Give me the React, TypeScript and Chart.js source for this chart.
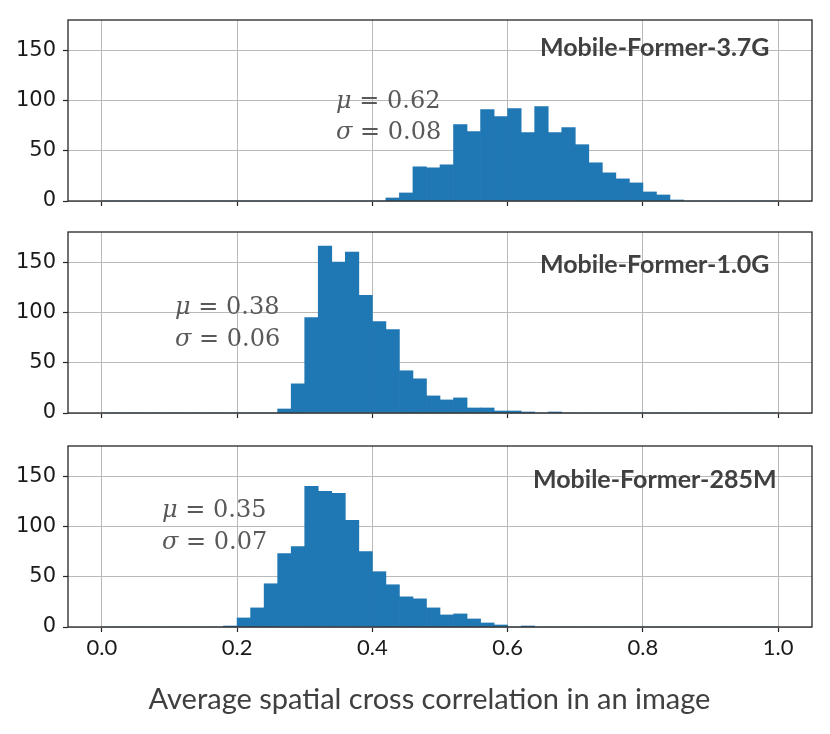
import React, { useEffect, useRef } from "react";
import { Chart, registerables } from "chart.js";
Chart.register(...registerables);

// Histogram bins: 50 bins of width 0.02 on [0, 1]
const binWidth = 0.02;
const binLefts = [
  0.0, 0.02, 0.04, 0.06, 0.08, 0.1, 0.12, 0.14, 0.16, 0.18,
  0.2, 0.22, 0.24, 0.26, 0.28, 0.3, 0.32, 0.34, 0.36, 0.38,
  0.4, 0.42, 0.44, 0.46, 0.48, 0.5, 0.52, 0.54, 0.56, 0.58,
  0.6, 0.62, 0.64, 0.66, 0.68, 0.7, 0.72, 0.74, 0.76, 0.78,
  0.8, 0.82, 0.84, 0.86, 0.88, 0.9, 0.92, 0.94, 0.96, 0.98,
];

const counts37G = [
  0, 0, 0, 0, 0, 0, 0, 0, 0, 0,
  0, 0, 0, 0, 0, 0, 0, 0, 0, 0,
  0, 3, 8, 34, 33, 36, 76, 69, 91, 84,
  92, 68, 94, 68, 73, 56, 38, 28, 22, 18,
  9, 6, 1, 0, 0, 0, 0, 0, 0, 0,
];
const counts10G = [
  0, 0, 0, 0, 0, 0, 0, 0, 0, 0,
  0, 0, 0, 4, 29, 95, 166, 150, 160, 117,
  91, 83, 42, 34, 17, 13, 15, 5, 5, 2,
  2, 1, 0, 1, 0, 0, 0, 0, 0, 0,
  0, 0, 0, 0, 0, 0, 0, 0, 0, 0,
];
const counts285M = [
  0, 0, 0, 0, 0, 0, 0, 0, 0, 1,
  9, 19, 43, 73, 80, 140, 135, 133, 106, 75,
  55, 42, 30, 28, 19, 12, 13, 8, 4, 2,
  0, 1, 0, 0, 0, 0, 0, 0, 0, 0,
  0, 0, 0, 0, 0, 0, 0, 0, 0, 0,
];

const xTicks = [0.0, 0.2, 0.4, 0.6, 0.8, 1.0];
const yTicks = [0, 50, 100, 150];
const panelTitles = ["Mobile-Former-3.7G", "Mobile-Former-1.0G", "Mobile-Former-285M"];
const means = ["0.62", "0.38", "0.35"];
const stds = ["0.08", "0.06", "0.07"];
const xLabel = "Average spatial cross correlation in an image";

const BAR = "#1f77b4";
const GRID = "#b9b9b9";
const INK = "#1a1a1a";

const framePlugin = {
  id: "frame",
  afterDraw(chart: any) {
    const { ctx, chartArea: a } = chart;
    ctx.save();
    ctx.strokeStyle = "#262626";
    ctx.lineWidth = 1.3;
    ctx.strokeRect(a.left, a.top, a.right - a.left, a.bottom - a.top);
    ctx.restore();
  },
};

type PanelProps = { counts: number[]; top: number; showX: boolean };

const PAD_TOP = 10;
const AREA_H = 181;

function Panel({ counts, top, showX }: PanelProps) {
  const ref = useRef<HTMLCanvasElement>(null);
  const canvasH = showX ? 734 - (top - PAD_TOP) : PAD_TOP + AREA_H + 8;
  const xAxisH = canvasH - PAD_TOP - AREA_H;

  useEffect(() => {
    if (!ref.current) return;
    const chart = new Chart(ref.current, {
      type: "bar",
      data: {
        datasets: [
          {
            data: binLefts.map((l, i) => ({ x: l + binWidth / 2, y: counts[i] })),
            backgroundColor: BAR,
            borderWidth: 0,
            barPercentage: 1,
            categoryPercentage: 1,
          },
        ],
      },
      options: {
        responsive: false,
        animation: false,
        layout: { padding: { top: PAD_TOP, right: 18, left: 0, bottom: 0 } },
        plugins: { legend: { display: false }, tooltip: { enabled: false } },
        scales: {
          x: {
            type: "linear",
            min: -0.05,
            max: 1.05,
            offset: false,
            z: 1,
            afterBuildTicks: (s: any) => {
              s.ticks = xTicks.map((v) => ({ value: v }));
            },
            grid: {
              color: GRID,
              lineWidth: 1,
              offset: false,
              drawTicks: true,
              tickLength: 5,
              tickColor: "#262626",
              tickWidth: 1.2,
            },
            border: { display: false },
            ticks: {
              display: showX,
              autoSkip: false,
              maxRotation: 0,
              padding: 3,
              color: INK,
              font: { family: "Lato", size: 22 },
              callback: (v: any) => Number(v).toFixed(1),
            },
            afterFit: (s: any) => {
              s.height = xAxisH;
              s.paddingLeft = 0;
              s.paddingRight = 0;
            },
          } as any,
          y: {
            min: 0,
            max: 180,
            z: 1,
            afterBuildTicks: (s: any) => {
              s.ticks = yTicks.map((v) => ({ value: v }));
            },
            grid: {
              color: GRID,
              lineWidth: 1,
              drawTicks: true,
              tickLength: 5,
              tickColor: "#262626",
              tickWidth: 1.2,
            },
            border: { display: false },
            ticks: {
              padding: 7,
              color: INK,
              font: { family: "DejaVu Sans", size: 21 },
            },
            afterFit: (s: any) => {
              s.width = 68;
              s.paddingTop = 0;
              s.paddingBottom = 0;
            },
          } as any,
        },
      },
      plugins: [framePlugin],
    });
    return () => chart.destroy();
  }, [counts, showX, xAxisH]);

  return (
    <canvas
      ref={ref}
      width={830}
      height={canvasH}
      style={{ position: "absolute", left: 0, top: top - PAD_TOP, width: 830, height: canvasH }}
    />
  );
}

const panelTops = [20, 232, 446];
const panelCounts = [counts37G, counts10G, counts285M];
const titlePos = [
  { left: 540, cy: 46 },
  { left: 540, cy: 263 },
  { left: 533, cy: 478 },
];
const statPos = [
  { left: 336, muY: 100, sdY: 131 },
  { left: 175, muY: 306, sdY: 338 },
  { left: 162, muY: 509, sdY: 541 },
];

const centered: React.CSSProperties = {
  position: "absolute",
  transform: "translateY(-50%)",
  lineHeight: 1,
  whiteSpace: "nowrap",
};

export default function App() {
  return (
    <div style={{ position: "absolute", left: 0, top: 0, width: 830, height: 734, background: "#fff", overflow: "hidden" }}>
      {panelCounts.map((c, i) => (
        <Panel key={i} counts={c} top={panelTops[i]} showX={i === 2} />
      ))}
      {panelTitles.map((t, i) => (
        <div
          key={"t" + i}
          style={{
            ...centered,
            left: titlePos[i].left,
            top: titlePos[i].cy,
            fontFamily: "Lato",
            fontWeight: 700,
            fontSize: 25,
            color: "#404040",
          }}
        >
          {t}
        </div>
      ))}
      {statPos.map((p, i) => (
        <React.Fragment key={"s" + i}>
          <div style={{ ...centered, left: p.left, top: p.muY, fontFamily: "DejaVu Serif", fontSize: 24, color: "#595959" }}>
            <span style={{ fontStyle: "italic" }}>μ</span> = {means[i]}
          </div>
          <div style={{ ...centered, left: p.left, top: p.sdY, fontFamily: "DejaVu Serif", fontSize: 24, color: "#595959" }}>
            <span style={{ fontStyle: "italic" }}>σ</span> = {stds[i]}
          </div>
        </React.Fragment>
      ))}
      <div
        style={{
          ...centered,
          left: 429.5,
          top: 697,
          transform: "translate(-50%, -50%)",
          fontFamily: "Lato",
          fontSize: 29,
          color: "#404040",
        }}
      >
        {xLabel}
      </div>
    </div>
  );
}
